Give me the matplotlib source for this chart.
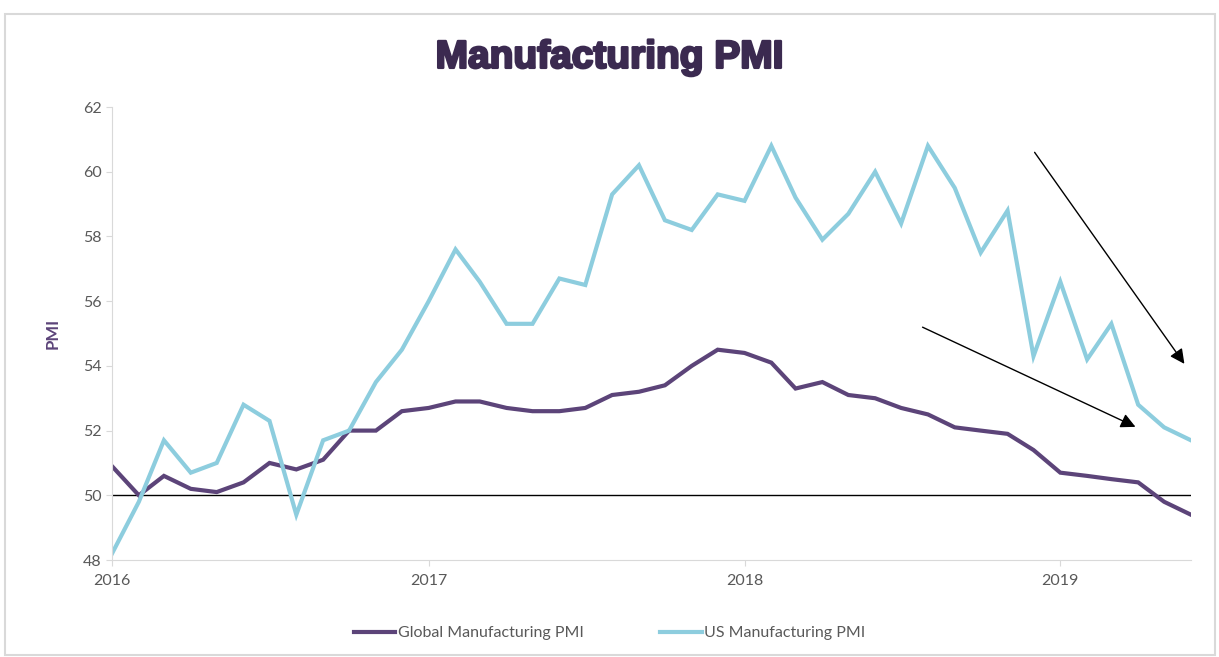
import numpy as np
import pandas as pd
import matplotlib
matplotlib.use("Agg")
import matplotlib.pyplot as plt
import matplotlib.dates as mdates
import matplotlib.patheffects as pe
from matplotlib.patches import Rectangle

# monthly readings, Jan 2016 .. Jun 2019
months = pd.date_range("2016-01-01", periods=42, freq="MS")
global_pmi = [50.9, 50.0, 50.6, 50.2, 50.1, 50.4, 51.0, 50.8, 51.1, 52.0, 52.0, 52.6,
              52.7, 52.9, 52.9, 52.7, 52.6, 52.6, 52.7, 53.1, 53.2, 53.4, 54.0, 54.5,
              54.4, 54.1, 53.3, 53.5, 53.1, 53.0, 52.7, 52.5, 52.1, 52.0, 51.9, 51.4,
              50.7, 50.6, 50.5, 50.4, 49.8, 49.4]
us_pmi = [48.2, 49.8, 51.7, 50.7, 51.0, 52.8, 52.3, 49.4, 51.7, 52.0, 53.5, 54.5,
          56.0, 57.6, 56.6, 55.3, 55.3, 56.7, 56.5, 59.3, 60.2, 58.5, 58.2, 59.3,
          59.1, 60.8, 59.2, 57.9, 58.7, 60.0, 58.4, 60.8, 59.5, 57.5, 58.8, 54.3,
          56.6, 54.2, 55.3, 52.8, 52.1, 51.7]
year_ticks = pd.to_datetime(["2016-01-01", "2017-01-01", "2018-01-01", "2019-01-01"])
y_ticks = [48, 50, 52, 54, 56, 58, 60, 62]

purple = "#5C4479"
blue = "#8DCDDE"
grey = "#595959"

plt.rcParams['font.family'] = ['Lato', 'DejaVu Sans']

fig = plt.figure(figsize=(12.19, 6.57), dpi=100)
fig.patches.append(Rectangle((0.004, 0.003), 0.993, 0.976, transform=fig.transFigure,
                             fill=False, edgecolor="#D9D9D9", lw=1.5))
ax = fig.add_axes([0.0919, 0.1476, 0.8851, 0.6895])

ax.plot(months, global_pmi, color=purple, lw=3, label="Global Manufacturing PMI",
        solid_joinstyle="miter")
ax.plot(months, us_pmi, color=blue, lw=3, label="US Manufacturing PMI",
        solid_joinstyle="miter")
ax.axhline(50, color="black", lw=1, zorder=1)

ax.set_xlim(months[0], months[-1])
ax.set_ylim(48, 62)
ax.set_yticks(y_ticks)
ax.set_xticks(year_ticks)
ax.xaxis.set_major_formatter(mdates.DateFormatter("%Y"))
ax.tick_params(axis="both", colors="#D9D9D9", labelcolor=grey, labelsize=11.5, length=4)
ax.tick_params(axis="x", pad=6)

for s in ["top", "right"]:
    ax.spines[s].set_visible(False)
for s in ["left", "bottom"]:
    ax.spines[s].set_color("#D9D9D9")

ax.set_ylabel("PMI", color=purple, fontsize=12, fontweight="bold", labelpad=16)

# trend arrows
ax.annotate("", xy=(0.9954, 0.428), xytext=(0.8536, 0.905), xycoords="axes fraction",
            arrowprops=dict(arrowstyle="-|>", color="black", lw=1, mutation_scale=22))
ax.annotate("", xy=(0.9509, 0.2914), xytext=(0.7489, 0.5166), xycoords="axes fraction",
            arrowprops=dict(arrowstyle="-|>", color="black", lw=1, mutation_scale=22))

fig.text(0.5, 0.912, "Manufacturing PMI", ha="center", va="center", fontsize=28,
         fontweight="bold", color="#3B2A50", family="Liberation Sans",
         path_effects=[pe.withStroke(linewidth=1.8, foreground="#3B2A50")])

leg = fig.legend(loc="center", bbox_to_anchor=(0.5, 0.036), ncol=2, frameon=False,
                 fontsize=11.5, handlelength=2.6, columnspacing=4.8, handletextpad=0.15)
for t in leg.get_texts():
    t.set_color(grey)

fig.savefig("out.png", dpi=100)
